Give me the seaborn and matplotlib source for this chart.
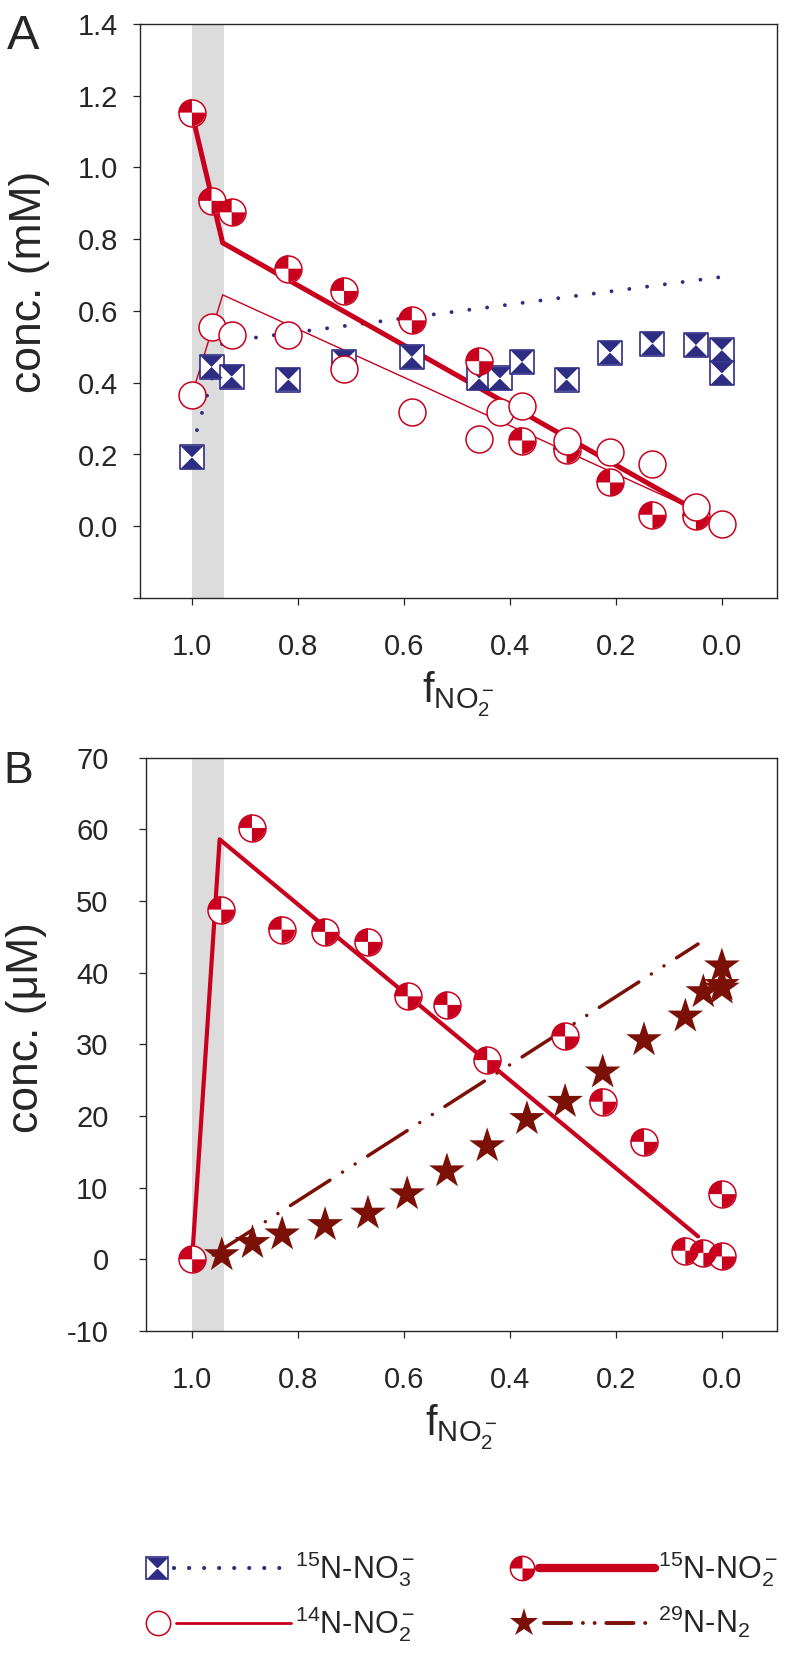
import numpy as np
import matplotlib
matplotlib.use("Agg")
import matplotlib.pyplot as plt
import seaborn as sns
from matplotlib.path import Path
from matplotlib.lines import Line2D
from matplotlib.legend_handler import HandlerBase

# ---------------------------------------------------------
# Data
# ---------------------------------------------------------
# Panel A (mM)
a_no2_15_x = [1.0, 0.963, 0.925, 0.818, 0.713, 0.585, 0.458, 0.377, 0.293, 0.211, 0.131, 0.049]
a_no2_15_y = [1.153, 0.907, 0.875, 0.718, 0.656, 0.574, 0.460, 0.239, 0.213, 0.122, 0.032, 0.028]

a_no2_14_x = [1.0, 0.963, 0.925, 0.818, 0.713, 0.585, 0.458, 0.419, 0.377, 0.293, 0.211, 0.131, 0.049, 0.0]
a_no2_14_y = [0.366, 0.555, 0.532, 0.532, 0.437, 0.319, 0.243, 0.319, 0.336, 0.239, 0.208, 0.174, 0.053, 0.005]

a_no3_x = [1.0, 0.963, 0.925, 0.818, 0.713, 0.585, 0.458, 0.419, 0.377, 0.293, 0.211, 0.131, 0.049, 0.0, 0.0]
a_no3_y = [0.192, 0.444, 0.417, 0.409, 0.458, 0.472, 0.412, 0.412, 0.458, 0.409, 0.484, 0.509, 0.505, 0.491, 0.426]

# model lines, panel A
a_fit_no2_15_x = [1.0, 0.942, 0.05]
a_fit_no2_15_y = [1.15, 0.79, 0.045]
a_fit_no2_14_x = [1.0, 0.942, 0.05]
a_fit_no2_14_y = [0.366, 0.645, 0.045]
a_fit_no3_x = [1.0, 0.942, 0.0]
a_fit_no3_y = [0.22, 0.514, 0.695]

# Panel B (uM)
b_no2_x = [1.0, 0.945, 0.887, 0.831, 0.749, 0.668, 0.593, 0.518, 0.443, 0.296, 0.225, 0.147, 0.069, 0.035, 0.0, 0.0]
b_no2_y = [0.0, 48.8, 60.2, 46.0, 45.7, 44.3, 36.7, 35.5, 27.8, 31.1, 22.0, 16.4, 1.2, 0.9, 9.1, 0.4]

b_n2_x = [0.944, 0.886, 0.830, 0.749, 0.668, 0.594, 0.519, 0.443, 0.368, 0.296, 0.225, 0.147, 0.069, 0.035, 0.0, 0.0, 0.0]
b_n2_y = [0.6, 2.3, 3.5, 4.8, 6.4, 9.1, 12.3, 15.8, 19.6, 22.0, 26.1, 30.6, 33.9, 37.3, 40.9, 37.8, 38.3]

b_fit_no2_x = [1.0, 0.948, 0.045]
b_fit_no2_y = [0.0, 58.6, 3.2]
b_fit_n2_x = [0.96, 0.045]
b_fit_n2_y = [0.6, 44.0]

x_ticks = [1.0, 0.8, 0.6, 0.4, 0.2, 0.0]
a_yticks = [-0.2, 0.0, 0.2, 0.4, 0.6, 0.8, 1.0, 1.2, 1.4]
a_ylabels = ["", "0.0", "0.2", "0.4", "0.6", "0.8", "1.0", "1.2", "1.4"]
b_yticks = [-10, 0, 10, 20, 30, 40, 50, 60, 70]

shade = (0.94, 1.0)

# ---------------------------------------------------------
# Style
# ---------------------------------------------------------
RED = "#C8001E"
DRED = "#7B1006"
NAVY = "#2E2C83"
GREY = "#DCDCDC"

sns.set_style("ticks")
plt.rcParams["font.family"] = ["Liberation Sans", "DejaVu Sans"]
plt.rcParams["mathtext.fontset"] = "custom"
plt.rcParams["mathtext.rm"] = "Liberation Sans"
plt.rcParams["mathtext.it"] = "Liberation Sans:italic"
plt.rcParams["mathtext.default"] = "regular"

# custom marker shapes
quarters = Path.make_compound_path(Path.wedge(90, 180), Path.wedge(270, 360))
hourglass = Path([(-1, 1), (1, 1), (0, 0), (-1, 1), (-1, -1), (1, -1), (0, 0), (-1, -1)],
                 [Path.MOVETO, Path.LINETO, Path.LINETO, Path.CLOSEPOLY,
                  Path.MOVETO, Path.LINETO, Path.LINETO, Path.CLOSEPOLY])

CIRC_S = 19.4 ** 2
SQ_S = 17.3 ** 2
STAR_S = 27 ** 2

dotted = (0, (0.01, 4.6))
dashdotdot = (0, (13.5, 4.3, 0.01, 4.3, 0.01, 4.3))


def quartered(ax, x, y, z):
    sns.scatterplot(x=x, y=y, marker="o", s=CIRC_S, color="white",
                    edgecolor=RED, linewidth=1.1, ax=ax, zorder=z)
    sns.scatterplot(x=x, y=y, marker=quarters, s=CIRC_S, color=RED,
                    edgecolor="none", linewidth=0, ax=ax, zorder=z + 0.1)


def style_axes(ax, ylim, yticks, ylabels, ylabel, xleft, ypad, ylab_xy):
    ax.axvspan(*shade, color=GREY, lw=0, zorder=0)
    ax.set_xlim(xleft, -0.104)
    ax.set_ylim(*ylim)
    ax.set_xticks(x_ticks)
    ax.set_xticklabels([f"{t:.1f}" for t in x_ticks])
    ax.set_yticks(yticks)
    ax.set_yticklabels(ylabels)
    ax.tick_params(axis="both", direction="out", length=5, width=0.9, labelsize=21)
    ax.tick_params(axis="x", pad=20)
    ax.tick_params(axis="y", pad=ypad)
    for sp in ax.spines.values():
        sp.set_linewidth(1.0)
    ax.set_xlabel(r"f$_{NO_2^-}$", fontsize=30, labelpad=6)
    ax.set_ylabel(ylabel, fontsize=32)
    ax.yaxis.set_label_coords(*ylab_xy)


fig = plt.figure(figsize=(7.87, 16.69), dpi=100)
W, H = 787, 1669
axA = fig.add_axes([140 / W, 1 - 598 / H, 637 / W, 574 / H])
axB = fig.add_axes([146 / W, 1 - 1331 / H, 631 / W, 573.3 / H])

# ---------------------------------------------------------
# Panel A
# ---------------------------------------------------------
sns.lineplot(x=a_fit_no3_x, y=a_fit_no3_y, color=NAVY, lw=2.8, linestyle=dotted,
             dash_capstyle="round", sort=False, estimator=None, ax=axA, zorder=2)
sns.lineplot(x=a_fit_no2_14_x, y=a_fit_no2_14_y, color=RED, lw=1.0,
             sort=False, estimator=None, ax=axA, zorder=2)
sns.lineplot(x=a_fit_no2_15_x, y=a_fit_no2_15_y, color=RED, lw=3.6,
             sort=False, estimator=None, ax=axA, zorder=2)

sns.scatterplot(x=a_no3_x, y=a_no3_y, marker="s", s=SQ_S, color="white",
                edgecolor=NAVY, linewidth=1.2, ax=axA, zorder=3)
sns.scatterplot(x=a_no3_x, y=a_no3_y, marker=hourglass, s=SQ_S * 0.9, color=NAVY,
                edgecolor="none", linewidth=0, ax=axA, zorder=3.1)
quartered(axA, a_no2_15_x, a_no2_15_y, 4)
sns.scatterplot(x=a_no2_14_x, y=a_no2_14_y, marker="o", s=CIRC_S, color="white",
                edgecolor=RED, linewidth=1.1, ax=axA, zorder=5)

style_axes(axA, (-0.2, 1.4), a_yticks, a_ylabels, "conc. (mM)", 1.098, 11, (-0.141, 0.55))

# ---------------------------------------------------------
# Panel B
# ---------------------------------------------------------
sns.lineplot(x=b_fit_n2_x, y=b_fit_n2_y, color=DRED, lw=2.5, linestyle=dashdotdot,
             dash_capstyle="round", sort=False, estimator=None, ax=axB, zorder=2)
sns.lineplot(x=b_fit_no2_x, y=b_fit_no2_y, color=RED, lw=3.0,
             sort=False, estimator=None, ax=axB, zorder=2)
sns.scatterplot(x=b_n2_x, y=b_n2_y, marker="*", s=STAR_S, color=DRED,
                edgecolor="none", linewidth=0, ax=axB, zorder=3)
quartered(axB, b_no2_x, b_no2_y, 4)

style_axes(axB, (-10, 70), b_yticks, [str(t) for t in b_yticks], "conc. (μM)", 1.087, 22,
           (-0.157, 0.53))

fig.text(7 / W, 1 - 49 / H, "A", fontsize=35, va="baseline", ha="left")
fig.text(3 / W, 1 - 783 / H, "B", fontsize=32, va="baseline", ha="left")

# ---------------------------------------------------------
# Legend: marker on the left, line sample to its right
# ---------------------------------------------------------
class Sample:
    def __init__(self, layers, line):
        self.layers = layers
        self.line = line


class MarkerLineHandler(HandlerBase):
    def create_artists(self, legend, h, xdescent, ydescent, width, height, fontsize, trans):
        y = height / 2 - ydescent
        x0 = -xdescent
        ms = h.layers[0]["markersize"]
        arts = [Line2D([x0 + ms + 4, x0 + width], [y, y], transform=trans, **h.line)]
        for kw in h.layers:
            arts.append(Line2D([x0 + ms / 2], [y], linestyle="none", transform=trans, **kw))
        return arts


ms_c, ms_s = 17.5, 16
handles = [
    Sample([dict(marker="s", markersize=ms_s, markerfacecolor="white", markeredgecolor=NAVY, markeredgewidth=1.2),
            dict(marker=hourglass, markersize=ms_s * 0.95, markerfacecolor=NAVY, markeredgewidth=0)],
           dict(color=NAVY, lw=3.0, linestyle=(0, (0.01, 3.6)), dash_capstyle="round")),
    Sample([dict(marker="o", markersize=ms_c, markerfacecolor="white", markeredgecolor=RED, markeredgewidth=1.1)],
           dict(color=RED, lw=2.0)),
    Sample([dict(marker="o", markersize=ms_c, markerfacecolor="white", markeredgecolor=RED, markeredgewidth=1.1),
            dict(marker=quarters, markersize=ms_c, markerfacecolor=RED, markeredgewidth=0)],
           dict(color=RED, lw=6.0, solid_capstyle="round")),
    Sample([dict(marker="*", markersize=ms_c * 1.2, markerfacecolor=DRED, markeredgewidth=0)],
           dict(color=DRED, lw=2.8, linestyle=(0, (7, 3.0, 0.01, 3.0, 0.01, 3.0)), dash_capstyle="round")),
]
labels = [r"$^{15}$N-NO$_3^-$", r"$^{14}$N-NO$_2^-$", r"$^{15}$N-NO$_2^-$", r"$^{29}$N-N$_2$"]

fig.legend(handles=handles, labels=labels, handler_map={Sample: MarkerLineHandler()},
           ncol=2, frameon=False, fontsize=22, handlelength=4.75, handletextpad=0.12,
           columnspacing=3.1, labelspacing=0.5, borderpad=0, borderaxespad=0,
           loc="upper left", bbox_to_anchor=(146 / W, 1 - 1549 / H))

fig.savefig("out.png", dpi=100)
